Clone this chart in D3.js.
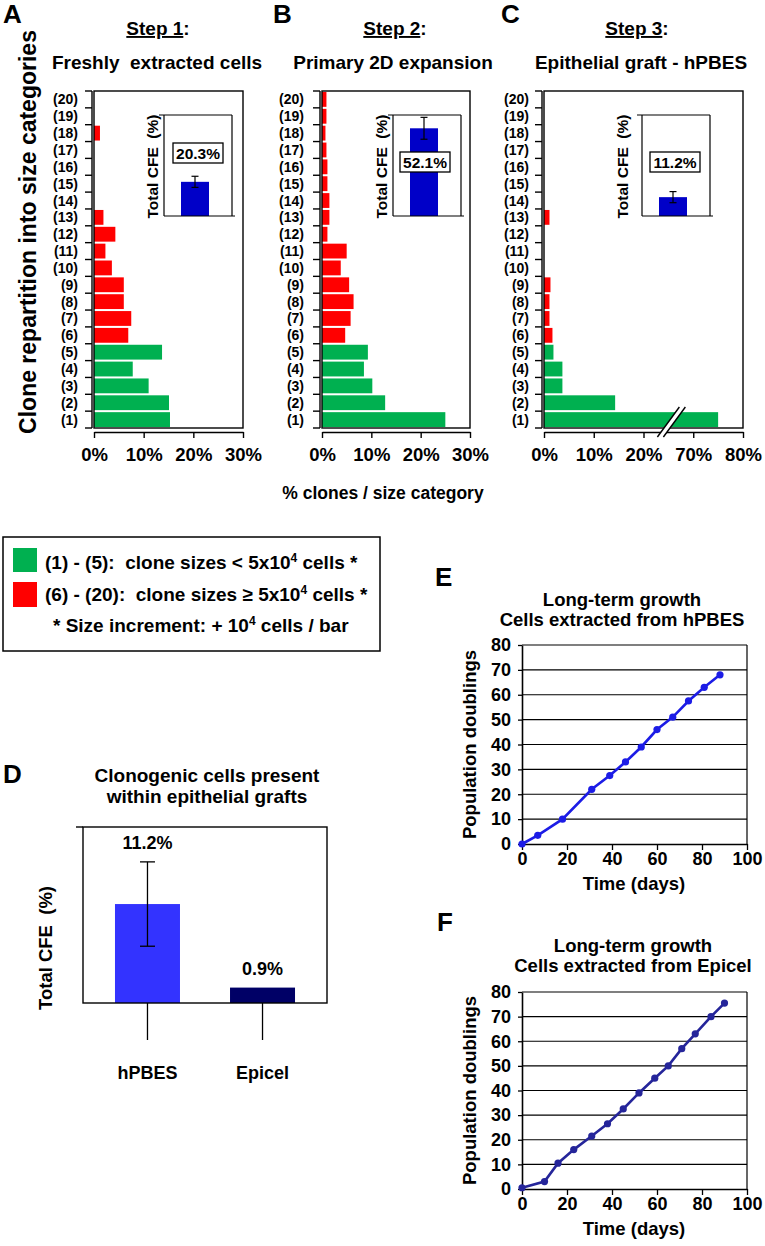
<!DOCTYPE html>
<html><head><meta charset="utf-8">
<script src="https://cdn.jsdelivr.net/npm/d3@7"></script>
<style>
body{margin:0;background:#fff}
svg text{font-family:"Liberation Sans",Arial,Helvetica,sans-serif;font-weight:bold;fill:#000;white-space:pre}
</style></head><body>
<svg id="c" width="765" height="1246" xmlns="http://www.w3.org/2000/svg"></svg>
<script>
// ---------------- DATA ----------------
const sizeCategories = d3.range(1, 21).map(i => `(${i})`);
const step1Values = [15.3, 15.1, 11.0, 7.8, 13.7, 6.9, 7.5, 6.0, 6.0, 3.6, 2.3, 4.3, 1.9, 0, 0, 0, 0, 1.2, 0, 0];
const step2Values = [25.0, 12.8, 10.2, 8.5, 9.3, 4.7, 5.8, 6.4, 5.5, 3.8, 5.0, 1.1, 1.5, 1.5, 1.1, 1.1, 0.9, 0.7, 0.9, 0.9];
const step3Values = [75.0, 14.3, 3.7, 3.7, 1.9, 1.7, 1.1, 1.1, 1.3, 0, 0, 0, 1.1, 0, 0, 0, 0, 0, 0, 0];
const stepTitles = ["Step 1", "Step 2", "Step 3"];
const stepSubtitles = ["Freshly  extracted cells", "Primary 2D expansion", "Epithelial graft - hPBES"];
const totalCFE = [20.3, 52.1, 11.2];
const totalCFEerr = [3.3, 6.5, 3.3];
const pctTicks = [0, 10, 20, 30];
const pctTicksBroken = [0, 10, 20, 70, 80];
const brokenDomain = [0, 25, 65, 80];

const graftCategories = ["hPBES", "Epicel"];
const graftCFE = [11.2, 0.9];
const graftCFEerr = [5.2, 0];

const growthHPBESdays = [0, 7, 18, 31, 39, 46, 53, 60, 67, 74, 81, 88];
const growthHPBESpd = [0, 3.5, 10, 22, 27.5, 33, 39, 46, 51, 57.5, 63, 68];
const growthEpicelDays = [0, 10, 16, 23, 31, 38, 45, 52, 59, 65, 71, 77, 84, 90];
const growthEpicelPd = [0.5, 3, 10.5, 16, 21.5, 26.5, 32.5, 39, 45, 50, 57, 63, 70, 75.5];
const growthXTicks = [0, 20, 40, 60, 80, 100];
const growthYTicks = [0, 10, 20, 30, 40, 50, 60, 70, 80];

// ---------------- STYLE ----------------
const GREEN = "#00b050", RED = "#ff0000", INSET_BLUE = "#0000c8";
const svg = d3.select("#c");

function text(g, x, y, s, size, anchor = "middle", rot = 0) {
  const t = g.append("text").attr("font-size", size).attr("text-anchor", anchor).text(s);
  if (rot) t.attr("transform", `translate(${x},${y}) rotate(${rot})`);
  else t.attr("x", x).attr("y", y);
  return t;
}
function line(g, x1, y1, x2, y2, w = 1.3, c = "#000") {
  return g.append("line").attr("x1", x1).attr("y1", y1).attr("x2", x2).attr("y2", y2)
    .attr("stroke", c).attr("stroke-width", w);
}

// ---------------- PANELS A-C ----------------
const stepPanels = [
  { letter: "A", lx: 3, x0: 94, x1: 243, values: step1Values, ticks: pctTicks, broken: false,
    insetL: 164, labelDx: 34, labelY: 153, cfeDx: -11, titleX: 158, subX: 157, tickLblX: 78 },
  { letter: "B", lx: 273, x0: 322, x1: 470, values: step2Values, ticks: pctTicks, broken: false,
    insetL: 393, labelDx: 32, labelY: 162, cfeDx: -11, titleX: 395, subX: 393, tickLblX: 304 },
  { letter: "C", lx: 501, x0: 544, x1: 743, values: step3Values, ticks: pctTicksBroken, broken: true,
    insetL: 642, labelDx: 33, labelY: 162, cfeDx: -19, titleX: 637, subX: 641, tickLblX: 529 }
];
const Y0 = 91, Y1 = 428;
const yBand = d3.scaleBand().domain(sizeCategories).range([Y1, Y0]).paddingInner(0.12).paddingOuter(0.06);

stepPanels.forEach((p, i) => {
  const g = svg.append("g");
  let x;
  if (p.broken) {
    const per = (p.x1 - p.x0) / ((brokenDomain[1] - brokenDomain[0]) + (brokenDomain[3] - brokenDomain[2]));
    const xb = p.x0 + per * (brokenDomain[1] - brokenDomain[0]);
    x = d3.scaleLinear().domain(brokenDomain).range([p.x0, xb, xb, p.x1]);
  } else {
    x = d3.scaleLinear().domain([0, 30]).range([p.x0, p.x1]);
  }
  text(g, p.lx, 23, p.letter, 26, "start");
  const st = g.append("text").attr("x", p.titleX).attr("y", 35).attr("font-size", 19).attr("text-anchor", "middle");
  st.append("tspan").attr("text-decoration", "underline").style("text-decoration", "underline").text(stepTitles[i]);
  st.append("tspan").text(":");
  text(g, p.subX, 69, stepSubtitles[i], 19);

  g.selectAll("rect.bar").data(p.values).join("rect").attr("class", "bar")
    .attr("x", x(0)).attr("y", (d, j) => yBand(sizeCategories[j]))
    .attr("width", d => Math.max(0, x(d) - x(0))).attr("height", yBand.bandwidth())
    .attr("fill", (d, j) => j < 5 ? GREEN : RED);

  g.append("rect").attr("x", p.x0).attr("y", Y0).attr("width", p.x1 - p.x0).attr("height", Y1 - Y0)
    .attr("fill", "none").attr("stroke", "#000").attr("stroke-width", 1.4);

  line(g, p.x0 - 2, Y0, p.x0 - 2, Y1, 1.4);
  const bounds = [Y1].concat(sizeCategories.map(c => yBand(c) + yBand.bandwidth() / 2 - yBand.step() / 2));
  bounds.forEach(b => line(g, p.x0 - 9, b, p.x0 - 2, b, 1.4));
  sizeCategories.forEach(c => {
    text(g, p.tickLblX, yBand(c) + yBand.bandwidth() / 2 + 5, c, 14, "end");
  });

  const ax = g.append("g").attr("transform", `translate(0,${Y1 + 4})`)
    .call(d3.axisBottom(x).tickValues(p.ticks).tickSize(6).tickSizeOuter(0).tickPadding(10).tickFormat(d => d + "%"));
  ax.select(".domain").attr("stroke-width", 1.4);
  ax.selectAll(".tick line").attr("stroke-width", 1.4);
  ax.selectAll(".tick text").attr("font-size", 18.5).attr("font-family", null);

  if (p.broken) {
    const cx = x(brokenDomain[1]) + 3;
    const yb = Y1 + 9, yt = Y1 - 21, s = 11;
    g.append("polygon").attr("points",
      `${cx - s - 3},${yb} ${cx + s - 3},${yt} ${cx + s + 3},${yt} ${cx - s + 3},${yb}`).attr("fill", "#fff");
    line(g, cx - s - 3, yb, cx + s - 3, yt, 1.4);
    line(g, cx - s + 3, yb, cx + s + 3, yt, 1.4);
  }

  const iL = p.insetL, iR = p.insetL + 68, iT = 115, iB = 216;
  const yi = d3.scaleLinear().domain([0, 60]).range([iB, iT]);
  const xi = d3.scaleBand().domain(["Total CFE"]).range([iL, iR]).paddingInner(0).paddingOuter(0.714).align(0.425);
  g.append("rect").attr("x", iL).attr("y", iT).attr("width", iR - iL).attr("height", iB - iT).attr("fill", "#fff");
  g.append("rect").attr("x", xi("Total CFE")).attr("width", xi.bandwidth())
    .attr("y", yi(totalCFE[i])).attr("height", yi(0) - yi(totalCFE[i])).attr("fill", INSET_BLUE);
  const ecx = xi("Total CFE") + xi.bandwidth() / 2;
  line(g, ecx, yi(totalCFE[i] - totalCFEerr[i]), ecx, yi(totalCFE[i] + totalCFEerr[i]), 1.2);
  line(g, ecx - 3.5, yi(totalCFE[i] - totalCFEerr[i]), ecx + 3.5, yi(totalCFE[i] - totalCFEerr[i]), 1.2);
  line(g, ecx - 3.5, yi(totalCFE[i] + totalCFEerr[i]), ecx + 3.5, yi(totalCFE[i] + totalCFEerr[i]), 1.2);
  line(g, iL - 5, iT, iR, iT, 1.2);
  line(g, iL, iT, iL, iB, 1.2);
  line(g, iR, iT, iR, iB, 1.2);
  line(g, iL, iB, iR + 3, iB, 1.2);
  text(g, iL + p.cfeDx, (iT + iB) / 2 + 1, "Total CFE  (%)", 15.5, "middle", -90)
    .attr("dy", "0.35em");
  const lx = iL + p.labelDx;
  g.append("rect").attr("x", lx - 25).attr("y", p.labelY - 10).attr("width", 50).attr("height", 20)
    .attr("fill", "#fff").attr("stroke", "#000").attr("stroke-width", 1.3);
  text(g, lx, p.labelY + 5.5, d3.format(".1f")(totalCFE[i]) + "%", 15.5).attr("fill", "#333");
});

text(svg, 28, 232, "Clone repartition into size categories", 23, "middle", -90).attr("dy", "0.35em");
text(svg, 383, 499, "% clones / size category", 17.5);

// ---------------- LEGEND ----------------
{
  const g = svg.append("g");
  g.append("rect").attr("x", 3).attr("y", 537).attr("width", 377).attr("height", 114)
    .attr("fill", "#fff").attr("stroke", "#000").attr("stroke-width", 1.5);
  g.append("rect").attr("x", 13).attr("y", 548).attr("width", 24).attr("height", 24).attr("fill", GREEN);
  g.append("rect").attr("x", 13).attr("y", 582).attr("width", 24).attr("height", 25).attr("fill", RED);
  const lines = [
    { x: 45, y: 569, a: "(1) - (5):  clone sizes < 5x10", b: " cells *" },
    { x: 45, y: 601, a: "(6) - (20):  clone sizes \u2265 5x10", b: " cells *" },
    { x: 53, y: 632, a: "* Size increment: + 10", b: " cells / bar" }
  ];
  lines.forEach(l => {
    const t = g.append("text").attr("x", l.x).attr("y", l.y).attr("font-size", 19);
    t.append("tspan").text(l.a);
    t.append("tspan").attr("dy", -7).attr("font-size", 12).text("4");
    t.append("tspan").attr("dy", 7).text(l.b);
  });
}

// ---------------- PANEL D ----------------
{
  const g = svg.append("g");
  const L = 83, R = 327, T = 827, B = 1003;
  text(g, 3, 783, "D", 26, "start");
  text(g, 207, 782, "Clonogenic cells present", 19);
  text(g, 207, 803, "within epithelial grafts", 19);
  const x = d3.scaleBand().domain(graftCategories).range([L, R]).paddingInner(0.435).paddingOuter(0.278);
  const y = d3.scaleLinear().domain([-1, 20.7]).range([B, T]);
  const colors = ["#3333ff", "#000066"];
  g.selectAll("rect.gb").data(graftCFE).join("rect").attr("class", "gb")
    .attr("x", (d, i) => x(graftCategories[i])).attr("width", x.bandwidth())
    .attr("y", d => y(d)).attr("height", d => y(y.domain()[0]) - y(d))
    .attr("fill", (d, i) => colors[i]);
  graftCFE.forEach((v, i) => {
    const cx = x(graftCategories[i]) + x.bandwidth() / 2;
    const e = graftCFEerr[i];
    if (e > 0) {
      line(g, cx, y(v - e), cx, y(v + e), 1.3);
      line(g, cx - 7.5, y(v - e), cx + 7.5, y(v - e), 1.3);
      line(g, cx - 7.5, y(v + e), cx + 7.5, y(v + e), 1.3);
    }
    text(g, cx, y(v + e) - 13, d3.format(".1f")(v) + "%", 18);
    line(g, cx, B, cx, B + 37, 1.3);
    text(g, cx, B + 76, graftCategories[i], 18);
  });
  g.append("rect").attr("x", L).attr("y", T).attr("width", R - L).attr("height", B - T)
    .attr("fill", "none").attr("stroke", "#000").attr("stroke-width", 1.4);
  line(g, L - 7, T, L, T, 1.4);
  text(g, 46, 948, "Total CFE  (%)", 18.5, "middle", -90).attr("dy", "0.35em");
}

// ---------------- PANELS E, F ----------------
const growthPanels = [
  { letter: "E", lx: 435, ly: 586, t1: "Long-term growth", t2: "Cells extracted from hPBES", tx: 622, ty: 606,
    days: growthHPBESdays, pd: growthHPBESpd, top: 645, bottom: 844, color: "#1c1ce6" },
  { letter: "F", lx: 437, ly: 931, t1: "Long-term growth", t2: "Cells extracted from Epicel", tx: 633, ty: 952,
    days: growthEpicelDays, pd: growthEpicelPd, top: 992, bottom: 1189, color: "#25259a" }
];
growthPanels.forEach(p => {
  const g = svg.append("g");
  const L = 522, R = 747;
  const x = d3.scaleLinear().domain([0, 100]).range([L, R]);
  const y = d3.scaleLinear().domain([0, 80]).range([p.bottom, p.top]);
  text(g, p.lx, p.ly, p.letter, 26, "start");
  text(g, p.tx, p.ty, p.t1, 18.5);
  text(g, p.tx, p.ty + 20, p.t2, 18.5);
  growthYTicks.filter(v => v > 0).forEach(v => line(g, L, y(v), R, y(v), 1.2));
  line(g, R, y(0), R, y(80), 1.2);
  const ay = g.append("g").attr("transform", `translate(${L},0)`)
    .call(d3.axisLeft(y).tickValues(growthYTicks).tickSize(4).tickSizeOuter(0).tickPadding(7));
  const axb = g.append("g").attr("transform", `translate(0,${p.bottom})`)
    .call(d3.axisBottom(x).tickValues(growthXTicks).tickSize(6).tickSizeOuter(0).tickPadding(2));
  [ay, axb].forEach(a => {
    a.select(".domain").attr("stroke-width", 1.6);
    a.selectAll(".tick line").attr("stroke-width", 1.3);
    a.selectAll(".tick text").attr("font-size", 18).attr("font-family", null);
  });
  const pts = p.days.map((d, i) => [d, p.pd[i]]);
  g.append("path").datum(pts).attr("fill", "none").attr("stroke", p.color).attr("stroke-width", 2.6)
    .attr("d", d3.line().x(d => x(d[0])).y(d => y(d[1])));
  g.selectAll("circle").data(pts).join("circle").attr("cx", d => x(d[0])).attr("cy", d => y(d[1]))
    .attr("r", 3.6).attr("fill", p.color);
  text(g, 470, (p.top + p.bottom) / 2, "Population doublings", 18.5, "middle", -90).attr("dy", "0.35em");
  text(g, 634, p.bottom + 46, "Time (days)", 18.5);
});
</script>
</body></html>
